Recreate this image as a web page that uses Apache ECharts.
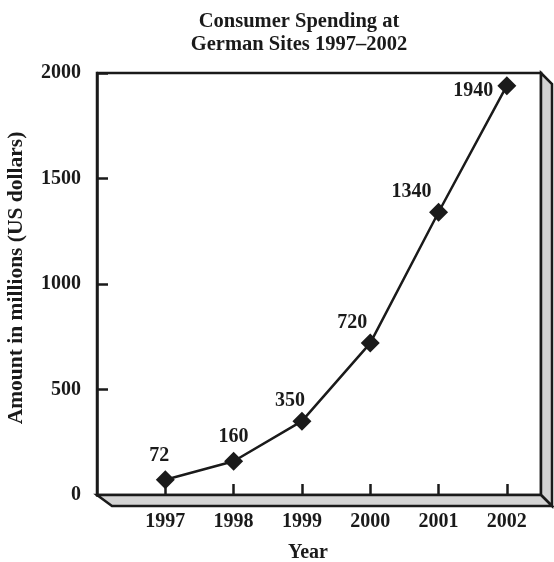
<!DOCTYPE html>
<html>
<head>
<meta charset="utf-8">
<script src="https://cdn.jsdelivr.net/npm/echarts@6/dist/echarts.min.js"></script>
<style>
  html, body { margin: 0; padding: 0; background: #fff; }
  #chart { width: 554px; height: 562px; }
</style>
</head>
<body>
<div id="chart"></div>
<script>
// Consumer spending at German sites, millions of US dollars
const years = [1997, 1998, 1999, 2000, 2001, 2002];
const spending = [72, 160, 350, 720, 1340, 1940];
const yTicks = [0, 500, 1000, 1500, 2000];

// Layout of the plot box and its shaded side/floor panels
const FONT = '"Liberation Serif", "DejaVu Serif", serif';
const INK = '#1a1a1a';
const GRID = { left: 97, top: 73, right: 13, bottom: 67 };
const DEPTH = 11;
const W = 554, H = 562;
// per-point label placement and nudges [dx, dy]
const labelPlace = [
  { position: 'top', offset: [-6, 0] },
  { position: 'top', offset: [0, -1] },
  { position: 'top', offset: [-12, 3] },
  { position: 'top', offset: [-18, 3] },
  { position: 'top', offset: [-27, 3] },
  { position: 'left', offset: [0, 5] }
];

const x0 = GRID.left, x1 = W - GRID.right, y0 = GRID.top, y1 = H - GRID.bottom;

const chart = echarts.init(document.getElementById('chart'), null, { renderer: 'canvas' });

const seriesData = years.map((yr, i) => ({
  value: [yr, spending[i]],
  label: { position: labelPlace[i].position, offset: labelPlace[i].offset }
}));

const textBold = { fontFamily: FONT, fontWeight: 'bold', fontSize: 20, color: INK };

chart.setOption({
  backgroundColor: '#fff',
  animation: false,
  title: {
    text: 'Consumer Spending at\nGerman Sites 1997–2002',
    left: 294, top: 5, textAlign: 'center',
    textStyle: Object.assign({}, textBold, { fontSize: 20.5, lineHeight: 23 })
  },
  grid: {
    left: GRID.left, top: GRID.top, right: GRID.right, bottom: GRID.bottom,
    outerBoundsMode: 'none', containLabel: false,
    show: true, borderColor: INK, borderWidth: 2.5, backgroundColor: '#fff'
  },
  xAxis: {
    type: 'value', min: 1996, max: 2002.5, interval: 1,
    name: 'Year', nameLocation: 'middle', nameGap: 48,
    nameTextStyle: Object.assign({}, textBold, { padding: [0, 22, 0, 0] }),
    axisLine: { show: true, lineStyle: { color: INK, width: 2.5 } },
    axisTick: { show: true, inside: true, length: 11, lineStyle: { color: INK, width: 2.5 } },
    axisLabel: Object.assign({
      margin: 17, showMinLabel: false, showMaxLabel: false,
      formatter: v => (years.indexOf(v) >= 0 ? String(v) : '')
    }, textBold),
    splitLine: { show: false }
  },
  yAxis: {
    type: 'value', min: yTicks[0], max: yTicks[yTicks.length - 1], interval: yTicks[1] - yTicks[0],
    name: 'Amount in millions (US dollars)', nameLocation: 'middle', nameGap: 70,
    nameTextStyle: Object.assign({}, textBold, { fontSize: 21.5, padding: [0, 0, 0, 12] }),
    axisLine: { show: true, lineStyle: { color: INK, width: 2.5 } },
    axisTick: { show: true, inside: true, length: 11, lineStyle: { color: INK, width: 2.5 } },
    axisLabel: Object.assign({ margin: 16, formatter: v => String(v) }, textBold),
    splitLine: { show: false }
  },
  series: [{
    type: 'line',
    data: seriesData,
    symbol: 'diamond', symbolSize: 19,
    lineStyle: { color: INK, width: 2.5 },
    itemStyle: { color: INK },
    label: Object.assign({ show: true, distance: 4, formatter: p => String(p.value[1]) }, textBold),
    z: 5
  }],
  graphic: [
    {
      type: 'polygon', z: 10,
      shape: { points: [[x1, y0], [x1 + DEPTH, y0 + DEPTH], [x1 + DEPTH, y1 + DEPTH], [x1, y1]] },
      style: { fill: '#d4d4d4', stroke: INK, lineWidth: 2.5, lineJoin: 'miter' }
    },
    {
      type: 'polygon', z: 10,
      shape: { points: [[x0, y1], [x1, y1], [x1 + DEPTH, y1 + DEPTH], [x0 + DEPTH + 4, y1 + DEPTH]] },
      style: { fill: '#d4d4d4', stroke: INK, lineWidth: 2.5, lineJoin: 'miter' }
    }
  ]
});
</script>
</body>
</html>
